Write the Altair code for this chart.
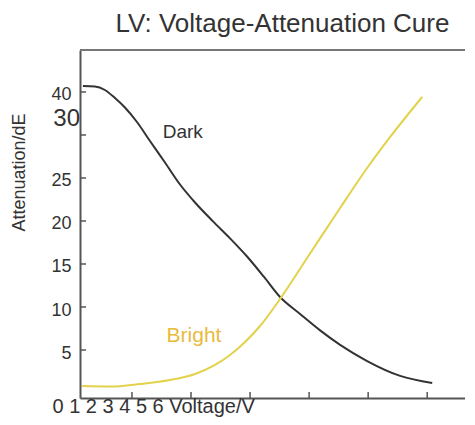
import altair as alt
import pandas as pd

# Dark curve (voltage, attenuation)
dark_v = [0.169, 0.373, 0.542, 0.712, 0.881, 1.085, 1.305, 1.559, 1.814, 2.068, 2.373,
          2.661, 2.949, 3.237, 3.508, 3.847, 4.186, 4.525, 4.983, 5.542, 6.085]
dark_a = [35.70, 35.64, 35.23, 34.30, 33.20, 31.51, 29.30, 26.80, 24.24, 22.15, 19.95,
          17.98, 15.87, 13.49, 11.16, 9.19, 7.28, 5.60, 3.72, 1.99, 1.16]

# Bright curve
bright_v = [0.153, 0.627, 1.136, 1.644, 2.068, 2.407, 2.661, 2.915, 3.169, 3.508,
            3.966, 4.525, 4.983, 5.373, 5.915]
bright_a = [0.81, 0.76, 1.05, 1.51, 2.21, 3.26, 4.42, 5.93, 7.79, 10.93,
            15.70, 21.51, 26.16, 29.77, 34.42]

x_ticks = [1, 2, 3, 4, 5, 6]
y_ticks = [5, 10, 15, 20, 25, 30, 35]
y_tick_labels = ["5", "10", "15", "20", "25", "", "40"]
extra_label = "30"
extra_label_value = 31.8

series_names = ["Dark", "Bright"]
series_colors = ["#333333", "#e2d24c"]

W, H = 385, 348
FONT = "Liberation Sans"

rows = [{"v": v, "a": a, "s": "Dark"} for v, a in zip(dark_v, dark_a)]
rows += [{"v": v, "a": a, "s": "Bright"} for v, a in zip(bright_v, bright_a)]
df = pd.DataFrame(rows)

label_expr = " : ".join(
    [f"datum.value == {v} ? '{l}'" for v, l in zip(y_ticks, y_tick_labels)]
) + " : datum.label"

x_enc = alt.X(
    "v:Q",
    scale=alt.Scale(domain=[0.12, 6.64], nice=False, zero=False),
    axis=alt.Axis(
        values=x_ticks, labels=False, ticks=False, grid=False,
        domainColor="#555", domainWidth=2,
        title="0 1 2 3 4 5 6 Voltage/V", titleFontSize=20, titleFont=FONT,
        titleFontWeight="normal", titleColor="#333", titleAlign="left",
        titleBaseline="alphabetic", titleX=-28, titleY=14, titleAngle=0,
    ),
)
y_enc = alt.Y(
    "a:Q",
    scale=alt.Scale(domain=[-0.58, 39.88], nice=False, zero=False),
    axis=alt.Axis(
        values=y_ticks, labelExpr=label_expr, ticks=False, grid=False,
        labelFontSize=18, labelFont=FONT, labelColor="#333", labelPadding=9,
        labelOffset=3,
        domainColor="#555", domainWidth=2,
        title="Attenuation/dE", titleFontSize=18, titleFont=FONT,
        titleFontWeight="normal", titleColor="#333", titleAngle=-90,
        titleAlign="center", titleBaseline="middle", titleX=-61, titleY=122,
    ),
)

lines = alt.Chart(df).mark_line(interpolate="monotone", strokeWidth=2).encode(
    x=x_enc, y=y_enc,
    color=alt.Color("s:N", scale=alt.Scale(domain=series_names, range=series_colors), legend=None),
    detail="s:N",
)

yt = pd.DataFrame({"a": y_ticks})
ytick_layer = alt.Chart(yt).mark_rule(color="#555", strokeWidth=1.5).encode(
    y=y_enc, x=alt.value(0), x2=alt.value(6)
)
xt = pd.DataFrame({"v": x_ticks})
xtick_layer = alt.Chart(xt).mark_rule(color="#555", strokeWidth=1.5).encode(
    x=x_enc, y=alt.value(H), y2=alt.value(H - 6)
)

top_frame = alt.Chart(pd.DataFrame({"k": [0]})).mark_rule(color="#777", strokeWidth=2).encode(
    x=alt.value(0), x2=alt.value(W), y=alt.value(0)
)

lab_df = pd.DataFrame({"v": [1.86, 2.05], "a": [30.3, 6.6], "t": ["Dark", "Bright"]})
dark_lab = alt.Chart(lab_df.iloc[[0]]).mark_text(font=FONT, fontSize=19, color="#333333").encode(
    x=x_enc, y=y_enc, text="t:N"
)
bright_lab = alt.Chart(lab_df.iloc[[1]]).mark_text(font=FONT, fontSize=21, color="#e8bb3c").encode(
    x=x_enc, y=y_enc, text="t:N"
)

extra_df = pd.DataFrame({"a": [extra_label_value], "t": [extra_label]})
extra = alt.Chart(extra_df).mark_text(
    font=FONT, fontSize=24, color="#333", align="right", baseline="middle"
).encode(x=alt.value(0), y=y_enc, text="t:N")

chart = alt.layer(
    top_frame, ytick_layer, xtick_layer, lines, dark_lab, bright_lab, extra
).properties(
    width=W, height=H,
    title=alt.Title("LV: Voltage-Attenuation Cure", fontSize=26, font=FONT,
                    fontWeight="normal", color="#333", offset=12, dx=10, anchor="middle"),
    autosize=alt.AutoSizeParams(type="none"),
    padding={"left": 72, "top": 42, "right": 0, "bottom": 19},
).configure_view(stroke=None)

chart.save("out.html", embed_options={"renderer": "svg", "actions": False})
